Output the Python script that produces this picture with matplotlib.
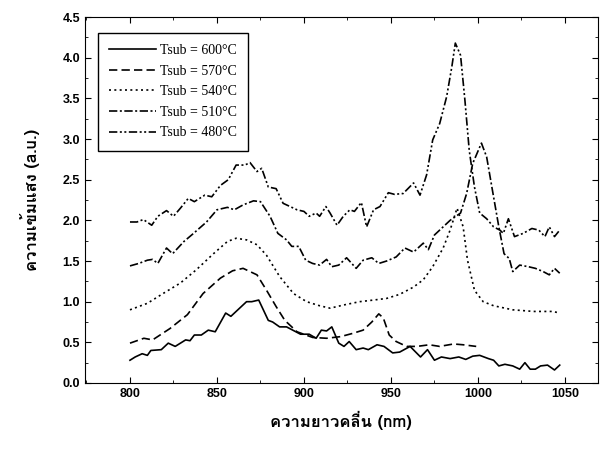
import matplotlib
matplotlib.use("Agg")
import matplotlib.pyplot as plt
from matplotlib import font_manager as fm
from matplotlib.ft2font import FT2Font
from matplotlib.ticker import MultipleLocator

# 600 C (solid)
x600 = [800, 803, 807, 810, 812, 818, 822, 826, 832, 834.5, 837, 841, 845, 849, 855, 858, 862, 867,
        870, 874, 879.5, 882, 886, 890, 898, 903, 907, 910, 913, 916, 920, 923, 926, 930, 934, 937,
        942, 946, 951, 955, 961, 967, 971, 975, 979, 984, 989, 993, 997, 1001, 1006, 1009, 1012,
        1015.5, 1020, 1024, 1027, 1030, 1033, 1036, 1040, 1044, 1047]
y600 = [0.28, 0.32, 0.36, 0.34, 0.40, 0.41, 0.49, 0.45, 0.53, 0.52, 0.59, 0.59, 0.65, 0.63, 0.86, 0.82,
        0.90, 1.00, 1.00, 1.02, 0.77, 0.75, 0.69, 0.69, 0.60, 0.60, 0.55, 0.65, 0.64, 0.69, 0.49, 0.45,
        0.51, 0.41, 0.43, 0.41, 0.47, 0.45, 0.37, 0.38, 0.45, 0.32, 0.41, 0.28, 0.32, 0.30, 0.32, 0.29,
        0.33, 0.34, 0.30, 0.28, 0.21, 0.23, 0.21, 0.17, 0.25, 0.17, 0.17, 0.21, 0.22, 0.16, 0.22]

# 570 C (dashed)
x570 = [800, 808, 813, 823, 833, 842, 852, 859, 865, 873, 878.5, 884, 889, 896, 905, 913, 921, 928,
        934, 939, 943, 945.6, 949, 953, 959, 965, 972, 978, 986, 991.5, 999]
y570 = [0.49, 0.55, 0.53, 0.67, 0.84, 1.10, 1.29, 1.38, 1.41, 1.33, 1.14, 0.94, 0.77, 0.63, 0.56, 0.55,
        0.57, 0.61, 0.65, 0.75, 0.85, 0.80, 0.59, 0.51, 0.45, 0.45, 0.47, 0.45, 0.48, 0.47, 0.45]

# 540 C (dotted)
x540 = [800, 810, 819, 829, 838, 848, 856, 861, 867, 873, 878.5, 886, 894, 901.5, 909, 915, 923, 932,
        940, 947.5, 955, 963, 968.6, 974, 980, 984, 988, 991.5, 994, 998, 1003, 1009, 1020, 1032,
        1043, 1047]
y540 = [0.90, 0.98, 1.10, 1.23, 1.39, 1.59, 1.74, 1.78, 1.76, 1.70, 1.57, 1.31, 1.10, 1.00, 0.95, 0.92,
        0.96, 1.00, 1.02, 1.04, 1.09, 1.18, 1.27, 1.43, 1.66, 1.88, 2.15, 1.92, 1.51, 1.14, 1.00, 0.95,
        0.90, 0.88, 0.88, 0.86]

# 510 C (dash-dot)
x510 = [800, 805, 810, 813, 816, 821, 824.5, 831, 836, 844, 850, 856, 860, 865, 871, 875, 880.5, 885,
        890, 893, 897, 901, 905, 909, 913, 916, 920, 924.5, 930, 934, 939, 943, 947.5, 953, 958, 963,
        968.6, 971.5, 975, 979, 984, 990, 993.5, 997, 1002, 1005, 1008, 1012, 1015, 1018, 1020, 1024,
        1029, 1033, 1037.5, 1041, 1044, 1047]
y510 = [1.44, 1.47, 1.51, 1.52, 1.47, 1.66, 1.59, 1.74, 1.83, 1.98, 2.13, 2.16, 2.13, 2.19, 2.24, 2.23,
        2.05, 1.84, 1.76, 1.68, 1.68, 1.51, 1.47, 1.45, 1.52, 1.43, 1.45, 1.54, 1.41, 1.51, 1.54, 1.47,
        1.50, 1.55, 1.66, 1.61, 1.72, 1.64, 1.82, 1.90, 2.00, 2.09, 2.33, 2.70, 2.95, 2.78, 2.41, 1.92,
        1.59, 1.53, 1.37, 1.45, 1.43, 1.41, 1.37, 1.33, 1.41, 1.35]

# 480 C (dash-dot-dot)
x480 = [800, 804, 807.7, 812.5, 816, 821, 825, 829, 833.5, 837, 843, 847, 852, 856.5, 861, 866, 869,
        873, 875.7, 879.5, 884, 888, 892, 896, 900, 903, 907, 909, 912.6, 915, 919, 922.6, 926.4, 929,
        933, 936, 940, 943.7, 948.5, 952, 957, 963, 966.7, 970.5, 974, 978, 982, 985, 987, 990, 992.5,
        995, 998, 1001, 1005, 1009, 1012.6, 1014.6, 1017.5, 1021, 1026, 1031, 1035, 1038.5, 1041,
        1044, 1047]
y480 = [1.98, 1.98, 2.01, 1.94, 2.05, 2.12, 2.05, 2.15, 2.27, 2.23, 2.31, 2.29, 2.43, 2.50, 2.68, 2.68,
        2.71, 2.60, 2.64, 2.41, 2.39, 2.21, 2.17, 2.13, 2.11, 2.05, 2.09, 2.05, 2.17, 2.09, 1.94, 2.05,
        2.13, 2.11, 2.22, 1.92, 2.13, 2.17, 2.34, 2.32, 2.33, 2.46, 2.31, 2.56, 2.99, 3.19, 3.52, 3.89,
        4.18, 4.03, 3.48, 2.86, 2.41, 2.09, 2.02, 1.92, 1.88, 1.84, 2.02, 1.80, 1.84, 1.90, 1.88, 1.80,
        1.92, 1.80, 1.88]

labels = ['Tsub = 600\u00b0C', 'Tsub = 570\u00b0C', 'Tsub = 540\u00b0C',
          'Tsub = 510\u00b0C', 'Tsub = 480\u00b0C']

# find a font that has Thai glyphs, if any
thai_font = 'DejaVu Sans'
for f in fm.fontManager.ttflist:
    try:
        if 0x0E04 in FT2Font(f.fname).get_charmap():
            thai_font = f.name
            break
    except Exception:
        pass

plt.rcParams['font.family'] = ['Liberation Sans', 'DejaVu Sans']
plt.rcParams['xtick.direction'] = 'in'
plt.rcParams['ytick.direction'] = 'in'

fig = plt.figure(figsize=(6.01, 4.49), dpi=100)
ax = fig.add_axes([0.141, 0.147, 0.854, 0.815])

lw = 1.2
ax.plot(x600, y600, color='black', lw=lw, ls='-', label=labels[0])
ax.plot(x570, y570, color='black', lw=lw, ls=(0, (5, 2.5)), label=labels[1])
ax.plot(x540, y540, color='black', lw=lw, ls=(0, (1.2, 2)), label=labels[2])
ax.plot(x510, y510, color='black', lw=lw, ls=(0, (5, 1.5, 1.2, 1.5)), label=labels[3])
ax.plot(x480, y480, color='black', lw=lw, ls=(0, (5, 1.5, 1.2, 1.5, 1.2, 1.5)), label=labels[4])

ax.set_xlim(774, 1069)
ax.set_ylim(0, 4.5)
ax.xaxis.set_major_locator(MultipleLocator(50))
ax.xaxis.set_minor_locator(MultipleLocator(25))
ax.yaxis.set_major_locator(MultipleLocator(0.5))
ax.yaxis.set_minor_locator(MultipleLocator(0.25))
ax.tick_params(which='both', top=True, right=True, labelsize=9)
ax.tick_params(which='major', length=4)
ax.tick_params(which='minor', length=2)
for lab in ax.get_xticklabels() + ax.get_yticklabels():
    lab.set_fontweight('bold')

ax.set_xlabel('ความยาวคลื่น (nm)', family=[thai_font, 'DejaVu Sans'], fontsize=12,
              fontweight='bold', labelpad=8)
ax.set_ylabel('ความเข้มแสง (a.u.)', family=[thai_font, 'DejaVu Sans'], fontsize=12,
              fontweight='bold', labelpad=16)

leg = ax.legend(loc='upper left', bbox_to_anchor=(0.025, 0.957), fancybox=False,
                edgecolor='black', framealpha=1, handlelength=3.4, handletextpad=0.3,
                labelspacing=0.55, borderpad=0.8, borderaxespad=0,
                prop={'family': ['Liberation Serif', 'DejaVu Serif'], 'size': 10})
leg.get_frame().set_linewidth(1.0)

fig.savefig('out.png', dpi=100)
